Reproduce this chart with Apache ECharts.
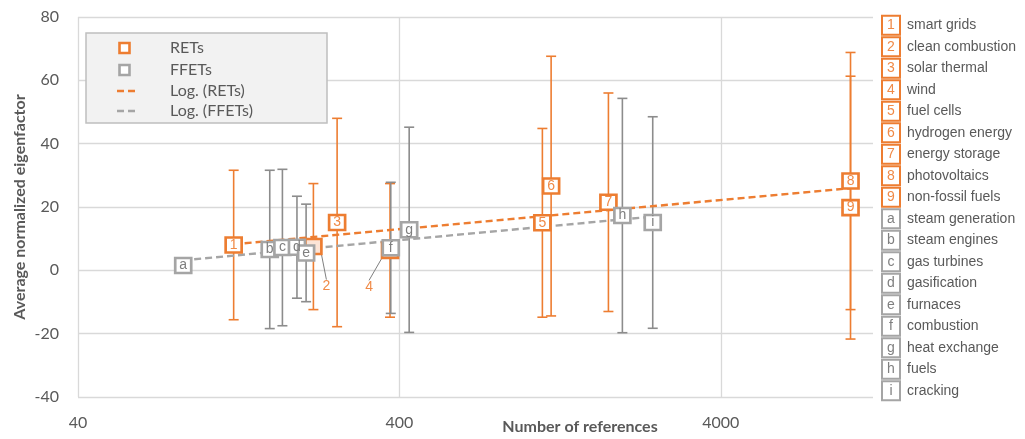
<!DOCTYPE html>
<html>
<head>
<meta charset="utf-8">
<script src="https://cdn.jsdelivr.net/npm/echarts@6/dist/echarts.min.js"></script>
<style>
  html, body { margin: 0; padding: 0; background: #ffffff; }
  #chart { width: 1025px; height: 439px; }
</style>
</head>
<body>
<div id="chart"></div>
<script>
// Renewable energy technologies (RETs)
const retTags = ['1', '2', '3', '4', '5', '6', '7', '8', '9'];
const retNames = ['smart grids', 'clean combustion', 'solar thermal', 'wind', 'fuel cells',
  'hydrogen energy', 'energy storage', 'photovoltaics', 'non-fossil fuels'];
const retRefs = [122, 216, 256, 374, 1114, 1186, 1788, 10130, 10130];
const retMeans = [8.0, 7.5, 15.1, 6.3, 15.0, 26.6, 21.5, 28.2, 19.8];
const retSpreads = [23.6, 19.9, 32.9, 21.1, 29.8, 41.0, 34.5, 40.6, 41.5];

// Fossil-fuel energy technologies (FFETs)
const ffetTags = ['a', 'b', 'c', 'd', 'e', 'f', 'g', 'h', 'i'];
const ffetNames = ['steam generation', 'steam engines', 'gas turbines', 'gasification', 'furnaces',
  'combustion', 'heat exchange', 'fuels', 'cracking'];
const ffetRefs = [85, 158, 173, 192, 205, 376, 429, 1976, 2456];
const ffetMeans = [1.5, 6.6, 7.2, 7.3, 5.5, 7.1, 12.8, 17.3, 15.1];
const ffetSpreads = [0, 25.0, 24.7, 16.1, 15.4, 20.7, 32.4, 37.0, 33.4];

// Axis ticks
const xTickLabels = ['40', '400', '4000'];
const yTicks = { min: -40, max: 80, step: 20 };

const REF_BASE = 40;     // first tick of the reference-count axis
const REF_END = 11900;   // right end of the plot
const toAxis = n => Math.log10(n / REF_BASE);

const ORANGE = '#ED7D31';
const ORANGE_TEXT = '#F08A47';
const GREY = '#A5A5A5';
const GREY_BAR = '#8C8C8C';
const GREY_TEXT = '#7F7F7F';
const INK = '#595959';

// tags drawn beside their box, with a leader line: [dx, dy]
const retCallouts = { '2': [13, 40], '4': [-21, 37] };

// least-squares fit of mean against log(references) -> Excel "Log." trendline
function logTrend(refs, means) {
  const xs = refs.map(toAxis);
  const n = xs.length;
  const mx = xs.reduce((a, b) => a + b, 0) / n;
  const my = means.reduce((a, b) => a + b, 0) / n;
  let sxy = 0, sxx = 0;
  xs.forEach((x, i) => { sxy += (x - mx) * (means[i] - my); sxx += (x - mx) * (x - mx); });
  const k = sxy / sxx;
  const x0 = Math.min(...xs), x1 = Math.max(...xs);
  return [[x0, my + k * (x0 - mx)], [x1, my + k * (x1 - mx)]];
}

function errorBarSeries(refs, means, spreads, color) {
  return {
    type: 'custom',
    silent: true,
    z: 1,
    encode: { x: 0, y: [1, 2] },
    data: refs.map((n, i) => [toAxis(n), means[i] - spreads[i], means[i] + spreads[i]]),
    renderItem: (params, api) => {
      const x = api.value(0), lo = api.value(1), hi = api.value(2);
      if (hi === lo) return null;
      const top = api.coord([x, hi]);
      const bot = api.coord([x, lo]);
      const cap = 5;
      const style = { stroke: color, lineWidth: 1.6 };
      return {
        type: 'group',
        children: [
          { type: 'line', shape: { x1: top[0], y1: top[1], x2: bot[0], y2: bot[1] }, style },
          { type: 'line', shape: { x1: top[0] - cap, y1: top[1], x2: top[0] + cap, y2: top[1] }, style },
          { type: 'line', shape: { x1: bot[0] - cap, y1: bot[1], x2: bot[0] + cap, y2: bot[1] }, style }
        ]
      };
    }
  };
}

function boxSeries(name, tags, refs, means, border, textColor, z, callouts) {
  return {
    name,
    type: 'scatter',
    z,
    symbol: 'rect',
    symbolSize: [16, 15],
    itemStyle: { color: '#ffffff', borderColor: border, borderWidth: 2.6, opacity: 1 },
    label: {
      show: true, position: 'inside', formatter: '{b}',
      color: textColor, fontFamily: 'Liberation Sans', fontSize: 14
    },
    labelLine: { show: false, lineStyle: { color: '#7F7F7F', width: 1 } },
    labelLayout: (p) => {
      const tag = tags[p.dataIndex];
      if (callouts && callouts[tag]) return { dx: callouts[tag][0], dy: callouts[tag][1] };
      return {};
    },
    emphasis: { disabled: true },
    data: refs.map((n, i) => {
      const item = { name: tags[i], value: [toAxis(n), means[i]] };
      if (callouts && callouts[tags[i]]) {
        item.itemStyle = { color: '#FCE4D6' };
        item.labelLine = { show: true, lineStyle: { color: '#7F7F7F', width: 1 } };
      }
      return item;
    })
  };
}

function trendSeries(points, color) {
  return {
    type: 'line',
    silent: true,
    z: 2,
    symbol: 'none',
    data: points,
    lineStyle: { color, width: 2.4, type: [7, 4] }
  };
}

// legend box in the upper left corner
const legendRows = [
  { text: 'RETs', kind: 'box', color: ORANGE, y: 48 },
  { text: 'FFETs', kind: 'box', color: GREY, y: 70 },
  { text: 'Log. (RETs)', kind: 'dash', color: ORANGE, y: 91 },
  { text: 'Log. (FFETs)', kind: 'dash', color: GREY, y: 111 }
];
const legendGraphic = [{
  type: 'rect', shape: { x: 86, y: 33, width: 241, height: 90 },
  style: { fill: '#F2F2F2', stroke: '#BFBFBF', lineWidth: 1.5 }, z: 10
}];
legendRows.forEach(r => {
  if (r.kind === 'box') {
    legendGraphic.push({
      type: 'rect', shape: { x: 119.5, y: r.y - 5, width: 10, height: 10 },
      style: { fill: '#ffffff', stroke: r.color, lineWidth: 2.6 }, z: 11
    });
  } else {
    legendGraphic.push({
      type: 'line', shape: { x1: 117, y1: r.y, x2: 135, y2: r.y },
      style: { stroke: r.color, lineWidth: 2.4, lineDash: [7, 4] }, z: 11
    });
  }
  legendGraphic.push({
    type: 'text', x: 170, y: r.y,
    style: { text: r.text, fill: INK, font: '16px Lato', verticalAlign: 'middle' }, z: 11
  });
});

// key of tags on the right
const keyGraphic = [];
const keyItems = retTags.map((t, i) => ({ tag: t, name: retNames[i], color: ORANGE, text: ORANGE_TEXT }))
  .concat(ffetTags.map((t, i) => ({ tag: t, name: ffetNames[i], color: GREY, text: GREY_TEXT })));
keyItems.forEach((k, i) => {
  const cy = 25.3 + i * 21.5;
  keyGraphic.push({
    type: 'rect', shape: { x: 882, y: cy - 9.5, width: 18, height: 19 },
    style: { fill: '#ffffff', stroke: k.color, lineWidth: 2 }
  });
  keyGraphic.push({
    type: 'text', x: 891, y: cy,
    style: { text: k.tag, fill: k.text, font: '14px "Liberation Sans"', align: 'center', verticalAlign: 'middle' }
  });
  keyGraphic.push({
    type: 'text', x: 907, y: cy,
    style: { text: k.name, fill: INK, font: '14px "Liberation Sans"', verticalAlign: 'middle' }
  });
});

const chart = echarts.init(document.getElementById('chart'), null, { renderer: 'canvas' });
chart.setOption({
  animation: false,
  backgroundColor: '#ffffff',
  grid: { left: 78, right: 152, top: 17, bottom: 42, containLabel: false, outerBoundsMode: 'none' },
  xAxis: {
    type: 'value',
    min: 0,
    max: toAxis(REF_END),
    interval: 1,
    axisLine: { show: false },
    axisTick: { show: false },
    splitLine: { show: true, showMaxLine: false, lineStyle: { color: '#D9D9D9', width: 1.3 } },
    axisLabel: {
      margin: 18, color: INK, fontFamily: 'Lato', fontSize: 16,
      showMaxLabel: false,
      formatter: v => xTickLabels[Math.round(v)] || ''
    },
    name: 'Number of references',
    nameLocation: 'middle',
    nameGap: 22,
    nameMoveOverlap: false,
    nameTextStyle: { color: INK, fontFamily: 'Lato', fontSize: 16, fontWeight: 'bold', padding: [0, 0, 0, 209] }
  },
  yAxis: {
    type: 'value',
    min: yTicks.min,
    max: yTicks.max,
    interval: yTicks.step,
    axisLine: { show: false },
    axisTick: { show: false },
    splitLine: { show: true, lineStyle: { color: '#D9D9D9', width: 1.3 } },
    axisLabel: { margin: 19, color: INK, fontFamily: 'Lato', fontSize: 16 },
    name: 'Average normalized eigenfactor',
    nameLocation: 'middle',
    nameGap: 50,
    nameMoveOverlap: false,
    nameTextStyle: { color: INK, fontFamily: 'Lato', fontSize: 16, fontWeight: 'bold' }
  },
  series: [
    errorBarSeries(retRefs, retMeans, retSpreads, ORANGE),
    errorBarSeries(ffetRefs, ffetMeans, ffetSpreads, GREY_BAR),
    trendSeries(logTrend(retRefs, retMeans), ORANGE),
    trendSeries(logTrend(ffetRefs, ffetMeans), GREY),
    boxSeries('RETs', retTags, retRefs, retMeans, ORANGE, ORANGE_TEXT, 3, retCallouts),
    boxSeries('FFETs', ffetTags, ffetRefs, ffetMeans, GREY, GREY_TEXT, 4, null)
  ],
  graphic: legendGraphic.concat(keyGraphic)
});
</script>
</body>
</html>
